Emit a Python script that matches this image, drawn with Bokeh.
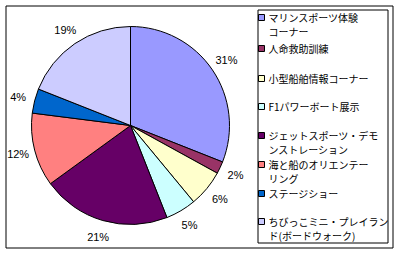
import numpy as np
from bokeh.plotting import figure
from bokeh.models import Range1d, ColumnDataSource
from bokeh.core.properties import value
from bokeh.embed import file_html
from bokeh.resources import INLINE

# ---- data ----
categories = [
    "マリンスポーツ体験\nコーナー",
    "人命救助訓練",
    "小型船舶情報コーナー",
    "F1パワーボート展示",
    "ジェットスポーツ・デモ\nンストレーション",
    "海と船のオリエンテー\nリング",
    "ステージショー",
    "ちびっこミニ・プレイラン\nド(ボードウォーク)",
]
shares = [31, 2, 6, 5, 21, 12, 4, 19]
pct_labels = ["31%", "2%", "6%", "5%", "21%", "12%", "4%", "19%"]
colors = ["#9999FF", "#993366", "#FFFFCC", "#CCFFFF",
          "#660066", "#FF8080", "#0066CC", "#CCCCFF"]

# ---- layout (pixels, y measured from top) ----
W, H = 395, 254
cx, cy, r = 130, 125, 99
label_r = 116

p = figure(width=W, height=H, x_range=Range1d(0, W), y_range=Range1d(0, H),
           output_backend="svg", toolbar_location=None,
           x_axis_type=None, y_axis_type=None, min_border=0,
           background_fill_color="white", border_fill_color="white")
p.outline_line_color = None
p.grid.visible = False

# outer frame
p.quad(left=[5.5], right=[392.5], top=[H - 5.5], bottom=[H - 247.5],
       fill_color=None, line_color="black", line_width=1)

# pie
frac = np.array(shares, dtype=float) / sum(shares)
cum = np.concatenate([[0.0], np.cumsum(frac)])
start = np.pi / 2 - 2 * np.pi * cum[:-1]
end = np.pi / 2 - 2 * np.pi * cum[1:]
src = ColumnDataSource(dict(start=start, end=end, color=colors))
p.wedge(x=cx, y=H - cy, radius=r, start_angle="start", end_angle="end",
        direction="clock", fill_color="color", line_color="black",
        line_width=1, source=src)

# percentage labels
mid = (cum[:-1] + cum[1:]) / 2
ang = np.pi / 2 - 2 * np.pi * mid
lx = cx + label_r * np.cos(ang)
ly = (H - cy) + label_r * np.sin(ang)
p.text(x=lx, y=ly, text=pct_labels, text_align="center",
       text_baseline="middle", text_font=value("Liberation Sans"),
       text_font_size="11px", text_color="black")

# legend box
p.quad(left=[257.5], right=[387.5], top=[H - 9.5], bottom=[H - 242.5],
       fill_color="white", line_color="black", line_width=1)

entry_y = [17, 48, 78, 106, 135, 164, 193, 221]
line_gap = 13.5
ey = np.array(entry_y, dtype=float)
p.rect(x=[261] * len(ey), y=H - ey, width=6, height=6,
       fill_color=colors, line_color="black", line_width=1)

tx, ty, tt = [], [], []
for name, y0 in zip(categories, entry_y):
    for k, line in enumerate(name.split("\n")):
        tx.append(268)
        ty.append(H - (y0 + k * line_gap))
        tt.append(line)
p.text(x=tx, y=ty, text=tt, text_align="left", text_baseline="middle",
       text_font=value("Noto Sans CJK JP"), text_font_size="10px",
       text_color="black")

open("out.html", "w").write(file_html(p, INLINE))
